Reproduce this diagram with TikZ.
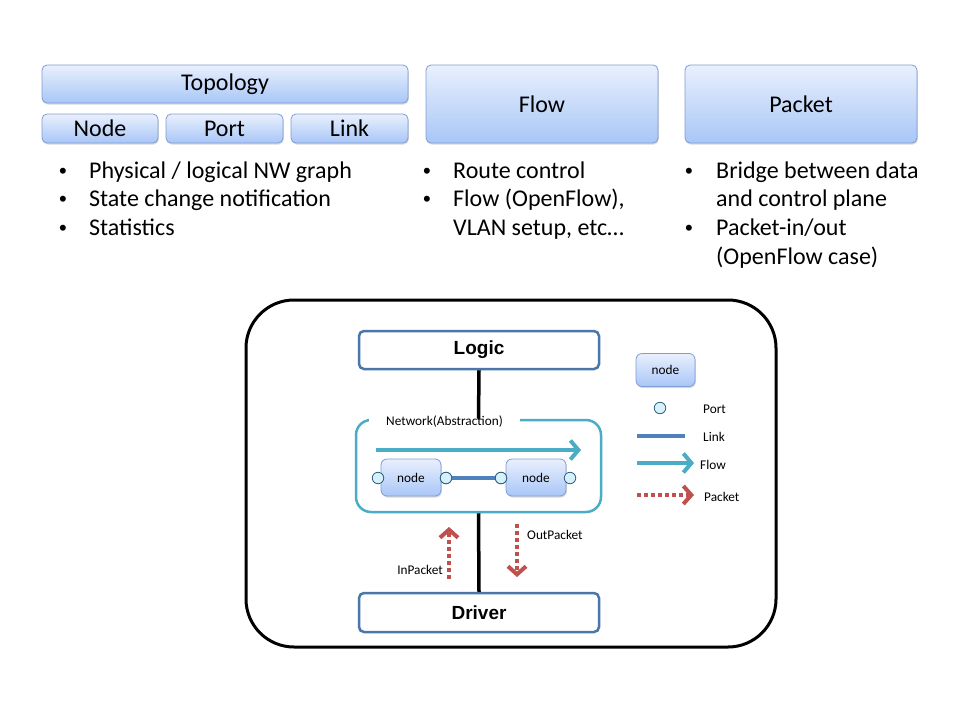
\documentclass[tikz,border=0pt]{standalone}
\usepackage{fontspec}
\setmainfont{Carlito}
\newfontfamily\arialf{Liberation Sans}
\usetikzlibrary{arrows.meta,shadows}
\definecolor{boxtop}{HTML}{E9F0FD}
\definecolor{boxbot}{HTML}{A8C6F7}
\definecolor{boxline}{HTML}{7F9DD2}
\definecolor{steel}{HTML}{4A76A8}
\definecolor{teal}{HTML}{4BACC6}
\definecolor{linkblue}{HTML}{4F81BD}
\definecolor{pktred}{HTML}{C0504D}
\definecolor{portfill}{HTML}{D6F1FA}
\definecolor{portline}{HTML}{2F5F7F}
\tikzset{
  bluebox/.style={draw=boxline, line width=0.8pt, rounded corners=5pt,
    top color=boxtop, bottom color=boxbot, inner sep=0pt,
    drop shadow={opacity=0.3, shadow xshift=0.8pt, shadow yshift=-1.5pt}},
  bigtxt/.style={font=\fontsize{24}{29}\selectfont},
  smalltxt/.style={font=\fontsize{13.3}{16}\selectfont},
  layerbox/.style={draw=steel, line width=2.5pt, rounded corners=5pt, fill=white,
    minimum width=240pt, inner sep=0pt, font=\arialf\bfseries\fontsize{19}{22}\selectfont},
  bullet/.style={font=\arialf\fontsize{22}{29}\selectfont, anchor=base, inner sep=0pt},
  btext/.style={bigtxt, anchor=base west, inner sep=0pt},
  port/.style={circle, draw=portline, fill=portfill, line width=0.8pt, minimum size=11.5pt, inner sep=0pt},
  flowarrow/.style={teal, line width=4pt, -{Straight Barb[length=8pt, width=19pt, line width=4pt]}},
  pktarrow/.style={pktred, line width=4pt, dash pattern=on 4pt off 3pt,
    -{Straight Barb[length=8pt, width=18pt, line width=4pt]}},
  linkline/.style={linkblue, line width=4pt},
  wire/.style={black, line width=3.5pt},
}
\begin{document}
\begin{tikzpicture}[x=1pt, y=-1pt]
\useasboundingbox[fill=white] (0,0) rectangle (960,720);

% top boxes
\node[bluebox, bigtxt, minimum width=366pt, minimum height=38pt] (topo) at (225,84) {Topology};
\node[bluebox, bigtxt, minimum width=116pt, minimum height=29pt] (tnode) at (100,128.5) {Node};
\node[bluebox, bigtxt, minimum width=117pt, minimum height=29pt] (tport) at (224.5,128.5) {Port};
\node[bluebox, bigtxt, minimum width=117pt, minimum height=29pt] (tlink) at (349.5,128.5) {Link};
\node[bluebox, bigtxt, minimum width=232pt, minimum height=78pt] (flow) at (542,104) {Flow};
\node[bluebox, bigtxt, minimum width=232pt, minimum height=78pt] (packet) at (801,104) {Packet};

% bullets: topology
\node[bullet] (b1) at (63,178) {•};
\node[btext] (t1) at (89,178) {Physical / logical NW graph};
\node[bullet] (b2) at (63,206.7) {•};
\node[btext] (t2) at (89,206.7) {State change notification};
\node[bullet] (b3) at (63,235.4) {•};
\node[btext] (t3) at (89,235.4) {Statistics};
% bullets: flow
\node[bullet] (b4) at (427,178) {•};
\node[btext] (t4) at (453,178) {Route control};
\node[bullet] (b5) at (427,206.7) {•};
\node[btext] (t5) at (453,206.7) {Flow (OpenFlow),};
\node[btext] (t6) at (453,235.4) {VLAN setup, etc…};
% bullets: packet
\node[bullet] (b7) at (689,178) {•};
\node[btext] (t7) at (716,178) {Bridge between data};
\node[btext] (t8) at (716,206.7) {and control plane};
\node[bullet] (b9) at (689,235.4) {•};
\node[btext] (t9) at (716,235.4) {Packet-in/out};
\node[btext] (t10) at (716,264.1) {(OpenFlow case)};

% outer frame
\node[draw=black, line width=3pt, rounded corners=48pt, minimum width=530pt, minimum height=347pt, inner sep=0pt] (frame) at (511,473.5) {};

% layers
\node[layerbox, minimum height=38pt] (logic) at (479,350) {Logic};
\node[layerbox, minimum height=39pt] (driver) at (479,612.5) {Driver};

% network abstraction
\node[draw=teal, line width=2.5pt, rounded corners=15pt, minimum width=245pt, minimum height=92pt, inner sep=0pt] (net) at (478.5,466) {};
\node[smalltxt, fill=white, inner xsep=17pt, inner ysep=2pt] (netlbl) at (444.5,422) {Network(Abstraction)};

\coordinate (fs) at (376,450);
\coordinate (fe) at (581,450);
\draw[flowarrow] (fs) -- (fe);

\node[bluebox, smalltxt, rounded corners=6pt, minimum width=60pt, minimum height=37pt] (n1) at (411,477.5) {node};
\node[bluebox, smalltxt, rounded corners=6pt, minimum width=60pt, minimum height=37pt] (n2) at (536,477.5) {node};
\node[port] (p1) at (378,478) {};
\node[port] (p2) at (446,478) {};
\node[port] (p3) at (501,478) {};
\node[port] (p4) at (570,478) {};
\draw[linkline] (p2) -- (p3);
\node[port] at (p2) {};
\node[port] at (p3) {};

\draw[wire] (logic.south) -- (net.north);
\draw[wire] (net.south) -- (driver.north);

% packet arrows
\coordinate (ins) at (449,579);
\coordinate (ine) at (449,527);
\draw[pktarrow] (ins) -- (ine);
\node[smalltxt, anchor=east, inner sep=0pt] (inlbl) at (443,570) {InPacket};
\coordinate (outs) at (517,524);
\coordinate (oute) at (517,577);
\draw[pktarrow] (outs) -- (oute);
\node[smalltxt, anchor=west, inner sep=0pt] (outlbl) at (527,535) {OutPacket};

% legend
\node[bluebox, smalltxt, rounded corners=6pt, minimum width=59pt, minimum height=33pt] (lnode) at (665.5,370) {node};
\node[port] (lport) at (660,408) {};
\node[smalltxt, anchor=west, inner sep=0pt] (lportt) at (703,409) {Port};
\coordinate (lls) at (637,436);
\coordinate (lle) at (685,436);
\draw[linkline] (lls) -- (lle);
\node[smalltxt, anchor=west, inner sep=0pt] (llinkt) at (703,437) {Link};
\coordinate (lfs) at (637,463);
\coordinate (lfe) at (694,463);
\draw[flowarrow] (lfs) -- (lfe);
\node[smalltxt, anchor=west, inner sep=0pt] (lflowt) at (700,465) {Flow};
\coordinate (lps) at (637,495);
\coordinate (lpe) at (694,495);
\draw[pktarrow] (lps) -- (lpe);
\node[smalltxt, anchor=west, inner sep=0pt] (lpktt) at (704,497) {Packet};
\end{tikzpicture}
\end{document}
